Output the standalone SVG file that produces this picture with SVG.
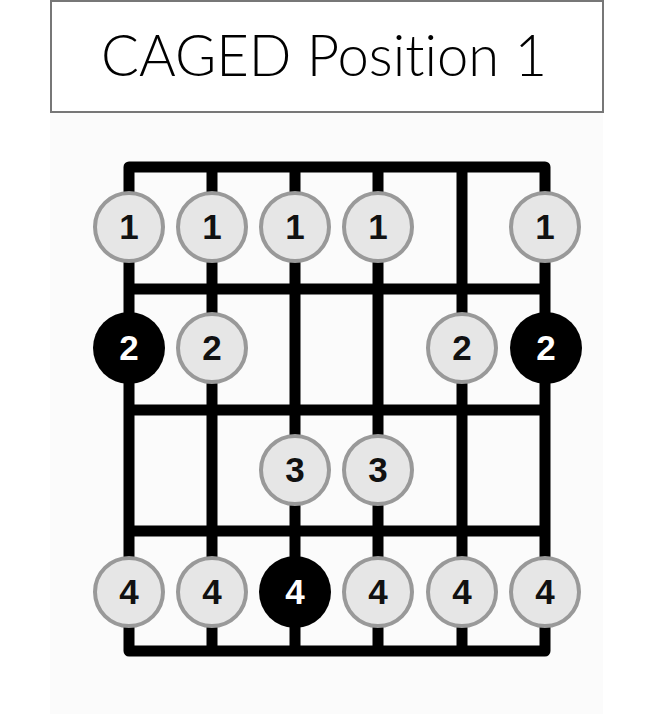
<svg xmlns="http://www.w3.org/2000/svg" width="654" height="714" viewBox="0 0 654 714">
<style>
.title{font-family:"Lato","Liberation Sans",Arial,sans-serif;font-weight:300;font-size:57px;fill:#000;font-variant-ligatures:none;font-feature-settings:"liga" 0;}
.grid{stroke:#000;stroke-width:11;fill:none;stroke-linejoin:round;}
.n{fill:#e6e6e6;stroke:#999;stroke-width:4;}
.r{fill:#000;}
.t{font-family:"Liberation Sans",Arial,sans-serif;font-weight:bold;font-size:35px;text-anchor:middle;fill:#111;}
.tw{fill:#fff;}
</style>
<rect x="0" y="0" width="654" height="714" fill="#fff"/>
<rect x="50" y="113" width="553" height="601" fill="#fbfbfb"/>
<g id="title">
<rect x="51" y="1" width="552" height="111" fill="#fff" stroke="#777" stroke-width="2"/>
<text class="title" x="324" y="76" text-anchor="middle" textLength="446" lengthAdjust="spacingAndGlyphs">CAGED Position 1</text>
</g>
<g id="fretboard">
<rect class="grid" x="129" y="167" width="416" height="484"/>
<path class="grid" d="M129 289H545M129 410H545M129 531H545M212 167V651M295 167V651M378 167V651M462 167V651"/>
</g>
<g id="row1">
<g id="n1a"><circle class="n" cx="129" cy="227" r="34"/><text class="t" x="129" y="239">1</text></g>
<g id="n1b"><circle class="n" cx="212" cy="227" r="34"/><text class="t" x="212" y="239">1</text></g>
<g id="n1c"><circle class="n" cx="295" cy="227" r="34"/><text class="t" x="295" y="239">1</text></g>
<g id="n1d"><circle class="n" cx="378" cy="227" r="34"/><text class="t" x="378" y="239">1</text></g>
<g id="n1f"><circle class="n" cx="545" cy="227" r="34"/><text class="t" x="545" y="239">1</text></g>
</g>
<g id="row2">
<g id="n2a"><circle class="r" cx="129" cy="348" r="36"/><text class="t tw" x="129" y="360">2</text></g>
<g id="n2b"><circle class="n" cx="212" cy="348" r="34"/><text class="t" x="212" y="360">2</text></g>
<g id="n2e"><circle class="n" cx="462" cy="348" r="34"/><text class="t" x="462" y="360">2</text></g>
<g id="n2f"><circle class="r" cx="546" cy="348" r="36"/><text class="t tw" x="546" y="360">2</text></g>
</g>
<g id="row3">
<g id="n3c"><circle class="n" cx="295" cy="470" r="34"/><text class="t" x="295" y="482">3</text></g>
<g id="n3d"><circle class="n" cx="378" cy="470" r="34"/><text class="t" x="378" y="482">3</text></g>
</g>
<g id="row4">
<g id="n4a"><circle class="n" cx="129" cy="592" r="34"/><text class="t" x="129" y="604">4</text></g>
<g id="n4b"><circle class="n" cx="212" cy="592" r="34"/><text class="t" x="212" y="604">4</text></g>
<g id="n4c"><circle class="r" cx="295" cy="592" r="36"/><text class="t tw" x="295" y="604">4</text></g>
<g id="n4d"><circle class="n" cx="378" cy="592" r="34"/><text class="t" x="378" y="604">4</text></g>
<g id="n4e"><circle class="n" cx="462" cy="592" r="34"/><text class="t" x="462" y="604">4</text></g>
<g id="n4f"><circle class="n" cx="545" cy="592" r="34"/><text class="t" x="545" y="604">4</text></g>
</g>
</svg>
